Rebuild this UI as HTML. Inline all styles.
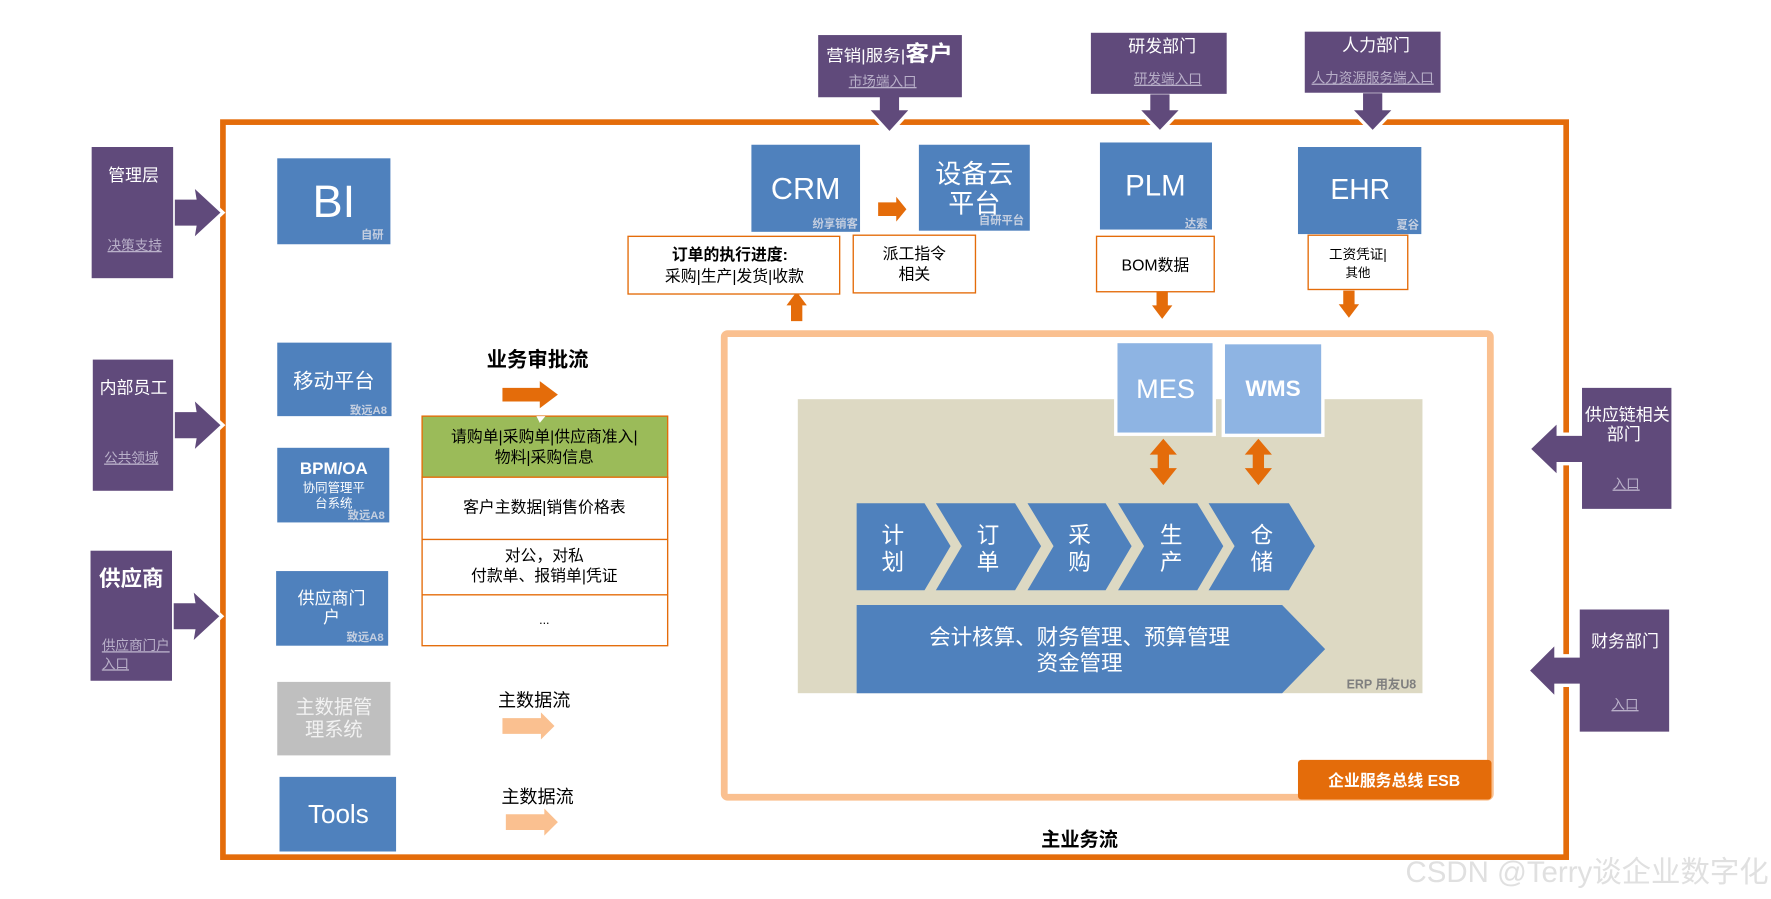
<!DOCTYPE html>
<html><head><meta charset="utf-8"><style>
html,body{margin:0;padding:0;background:#fff;overflow:hidden}
svg{display:block}
text{font-family:"Liberation Sans","Noto Sans CJK SC",sans-serif}
</style></head><body>
<svg width="1771" height="899" viewBox="0 0 1565 795" preserveAspectRatio="none" xmlns="http://www.w3.org/2000/svg">
<rect width="1565" height="795" fill="#fff"/>
<rect x="197" y="108" width="1187" height="650" fill="none" stroke="#e46c0a" stroke-width="5"/>
<rect x="640" y="295" width="677" height="410" rx="3" fill="#fff" stroke="#fac090" stroke-width="6"/>
<rect x="705" y="353" width="552" height="260" fill="#ddd9c3"/>
<rect x="1147" y="672" width="171" height="35" rx="3" fill="#e46c0a"/>
<text x="1232" y="695" font-size="14" font-weight="bold" fill="#fff" text-anchor="middle">企业服务总线 ESB</text>

<g fill="#604a7b" stroke="#fff" stroke-width="3">
<polygon points="153,175 172,175 170,163 197,188 170,213 172,201 153,201"/>
<polygon points="153,363 172,363 170,351 197,376 170,401 172,389 153,389"/>
<polygon points="152,532 171,532 169,520 196,545 169,570 171,558 152,558"/>
<polygon points="776,84 776,96 766,96 786,118 806,96 796,96 796,84"/>
<polygon points="1015,82 1015,96 1005,96 1025,117 1045,96 1035,96 1035,82"/>
<polygon points="1203,81 1203,96 1193,96 1213,117 1233,96 1223,96 1223,81"/>
<polygon points="1400,384 1377,384 1377,372 1351,397 1377,422 1377,410 1400,410"/>
<polygon points="1398,580 1375,580 1375,568 1350,593 1375,618 1375,606 1398,606"/>
</g>
<g fill="#604a7b">
<rect x="81" y="130" width="72" height="116"/>
<rect x="82" y="318" width="71" height="116"/>
<rect x="80" y="487" width="72" height="115"/>
<rect x="723" y="31" width="127" height="55"/>
<rect x="964" y="29" width="120" height="54"/>
<rect x="1153" y="28" width="120" height="54"/>
<rect x="1398" y="343" width="79" height="107"/>
<rect x="1396" y="539" width="79" height="108"/>
</g>
<g fill="#fff" font-size="15" text-anchor="middle">
<text x="118" y="160">管理层</text>
<text x="118" y="348">内部员工</text>
<text x="116" y="518" font-size="19" font-weight="bold">供应商</text>
<text x="786" y="54" font-size="14" textLength="112" lengthAdjust="spacingAndGlyphs">营销|服务|<tspan font-size="19" font-weight="bold">客户</tspan></text>
<text x="1027" y="46">研发部门</text>
<text x="1216" y="45">人力部门</text>
<text x="1438" y="372">供应链相关</text>
<text x="1435" y="389">部门</text>
<text x="1436" y="572">财务部门</text>
</g>
<g fill="#b9b0c9" font-size="12" text-anchor="middle" text-decoration="underline">
<text x="119" y="221">决策支持</text>
<text x="116" y="409">公共领域</text>
<text x="90" y="575" text-anchor="start">供应商门户</text>
<text x="90" y="591" text-anchor="start">入口</text>
<text x="780" y="76">市场端入口</text>
<text x="1032" y="74">研发端入口</text>
<text x="1213" y="73">人力资源服务端入口</text>
<text x="1437" y="432">入口</text>
<text x="1436" y="627">入口</text>
</g>

<g fill="#4f81bd">
<rect x="245" y="140" width="100" height="76"/>
<rect x="245" y="303" width="101" height="65"/>
<rect x="245" y="396" width="99" height="66"/>
<rect x="244" y="505" width="99" height="66"/>
<rect x="247" y="687" width="103" height="66"/>
<rect x="664" y="128" width="96" height="77"/>
<rect x="812" y="128" width="98" height="76"/>
<rect x="972" y="126" width="99" height="77"/>
<rect x="1147" y="130" width="109" height="77"/>
</g>
<rect x="245" y="603" width="100" height="65" fill="#bfbfbf"/>
<g fill="#fff" text-anchor="middle">
<text x="295" y="192" font-size="40">BI</text>
<text x="295" y="343" font-size="18">移动平台</text>
<text x="295" y="419" font-size="15" font-weight="bold">BPM/OA</text>
<text x="295" y="435" font-size="11">协同管理平</text>
<text x="295" y="449" font-size="11">台系统</text>
<text x="293" y="534" font-size="15">供应商门</text>
<text x="293" y="551" font-size="15">户</text>
<text x="295" y="631" font-size="17" fill="#f2f2f2">主数据管</text>
<text x="295" y="651" font-size="17" fill="#f2f2f2">理系统</text>
<text x="299" y="728" font-size="23">Tools</text>
<text x="712" y="176" font-size="27">CRM</text>
<text x="861" y="162" font-size="23">设备云</text>
<text x="861" y="188" font-size="23">平台</text>
<text x="1021" y="173" font-size="26">PLM</text>
<text x="1202" y="176" font-size="25">EHR</text>
</g>
<g fill="#c5cfe0" font-size="10" text-anchor="end" font-weight="bold">
<text x="339" y="211">自研</text>
<text x="342" y="366">致远A8</text>
<text x="340" y="459">致远A8</text>
<text x="339" y="567">致远A8</text>
<text x="758" y="201">纷享销客</text>
<text x="905" y="198">自研平台</text>
<text x="1067" y="201">达索</text>
<text x="1254" y="202">夏谷</text>
</g>

<g fill="#e46c0a">
<polygon points="776,179 792,179 792,174 801,185 792,196 792,191 776,191"/>
<polygon points="699,284 699,270 695,270 704,258 713,270 709,270 709,284"/>
<polygon points="1022,258 1032,258 1032,270 1036,270 1027,282 1018,270 1022,270"/>
<polygon points="1187,257 1197,257 1197,269 1201,269 1192,281 1183,269 1187,269"/>
<polygon points="444,343 477,343 477,337 493,349 477,361 477,355 444,355"/>
<polygon points="1028,388 1040,402 1033,402 1033,414 1040,414 1028,429 1016,414 1023,414 1023,402 1016,402"/>
<polygon points="1112,388 1124,402 1117,402 1117,414 1124,414 1112,429 1100,414 1107,414 1107,402 1100,402"/>
</g>
<g fill="#fac090">
<polygon points="444,635 478,635 478,630 490,642 478,654 478,649 444,649"/>
<polygon points="447,720 481,720 481,715 493,727 481,739 481,734 447,734"/>
</g>

<g fill="#fff" stroke="#e46c0a" stroke-width="1.2">
<rect x="555" y="209" width="187" height="51"/>
<rect x="754" y="208" width="108" height="51"/>
<rect x="969" y="209" width="104" height="49"/>
<rect x="1156" y="208" width="88" height="48"/>
</g>
<g fill="#000" text-anchor="middle" font-size="14">
<text x="645" y="230" font-weight="bold">订单的执行进度:</text>
<text x="649" y="249">采购|生产|发货|收款</text>
<text x="808" y="229">派工指令</text>
<text x="808" y="247">相关</text>
<text x="1021" y="239">BOM数据</text>
<text x="1200" y="229" font-size="12">工资凭证|</text>
<text x="1200" y="245" font-size="11">其他</text>
<text x="475" y="324" font-size="18" font-weight="bold">业务审批流</text>
<text x="472" y="625" font-size="16">主数据流</text>
<text x="475" y="710" font-size="16">主数据流</text>
<text x="954" y="748" font-size="17" font-weight="bold">主业务流</text>
</g>

<rect x="373" y="368" width="217" height="54" fill="#9bbb59" stroke="#e46c0a" stroke-width="1.2"/>
<rect x="373" y="422" width="217" height="149" fill="#fff" stroke="#e46c0a" stroke-width="1.2"/>
<line x1="373" y1="477" x2="590" y2="477" stroke="#e46c0a" stroke-width="1.2"/>
<line x1="373" y1="526" x2="590" y2="526" stroke="#e46c0a" stroke-width="1.2"/>
<polygon points="474,368 482,368 477,374" fill="#fff"/>
<g fill="#000" text-anchor="middle" font-size="14">
<text x="481" y="391">请购单|采购单|供应商准入|</text>
<text x="481" y="409">物料|采购信息</text>
<text x="481" y="453">客户主数据|销售价格表</text>
<text x="481" y="496">对公，对私</text>
<text x="481" y="514">付款单、报销单|凭证</text>
<text x="481" y="552" font-size="11">...</text>
</g>

<rect x="986" y="302" width="87" height="82" fill="#8eb4e3" stroke="#fff" stroke-width="3"/>
<rect x="1081" y="303" width="88" height="82" fill="#8eb4e3" stroke="#fff" stroke-width="3"/>
<text x="1030" y="352" font-size="24" fill="#fff" text-anchor="middle">MES</text>
<text x="1125" y="350" font-size="20" font-weight="bold" fill="#fff" text-anchor="middle">WMS</text>

<g fill="#4f81bd">
<polygon points="757,445 817,445 840,483 817,522 757,522"/>
<polygon points="827,445 897,445 920,483 897,522 827,522 850,483"/>
<polygon points="908,445 977,445 1000,483 977,522 908,522 931,483"/>
<polygon points="988,445 1058,445 1081,483 1058,522 988,522 1011,483"/>
<polygon points="1068,445 1139,445 1162,483 1139,522 1068,522 1091,483"/>
<polygon points="757,535 1133,535 1171,574 1133,613 757,613"/>
</g>
<g fill="#fff" font-size="20" text-anchor="middle">
<text x="789" y="480">计</text><text x="789" y="504">划</text>
<text x="873" y="480">订</text><text x="873" y="504">单</text>
<text x="954" y="480">采</text><text x="954" y="504">购</text>
<text x="1035" y="480">生</text><text x="1035" y="504">产</text>
<text x="1115" y="480">仓</text><text x="1115" y="504">储</text>
<text x="954" y="570" font-size="19">会计核算、财务管理、预算管理</text>
<text x="954" y="593" font-size="19">资金管理</text>
</g>
<text x="1190" y="609" font-size="11" font-weight="bold" fill="#7f7f7f">ERP  用友U8</text>

<text x="1563" y="780" font-size="26" fill="#e0e0e0" text-anchor="end">CSDN @Terry谈企业数字化</text>
</svg>
</body></html>
